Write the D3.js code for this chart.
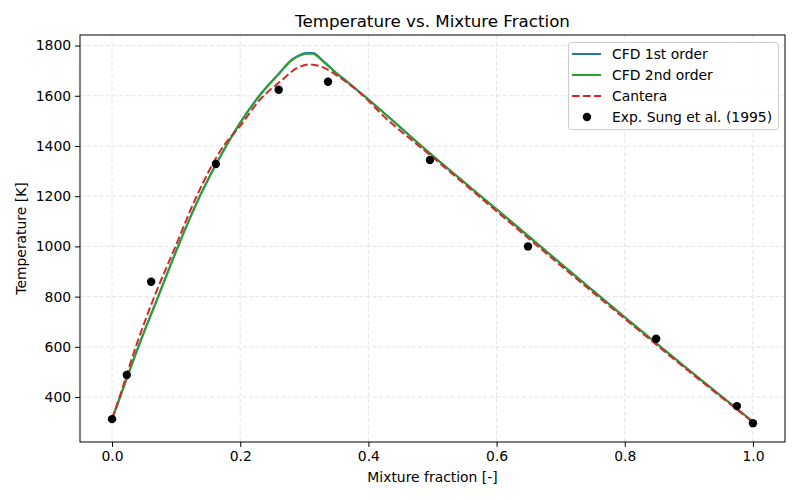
<!DOCTYPE html>
<html>
<head>
<meta charset="utf-8">
<script src="https://cdn.jsdelivr.net/npm/d3@7"></script>
<style>
body { margin:0; background:#fff; }
svg { font-family: "DejaVu Sans", sans-serif; }
</style>
</head>
<body>
<svg id="chart" width="800" height="500"></svg>
<script>
// data
var cfd2_x = [0, 0.0125, 0.041, 0.072, 0.103, 0.137, 0.178, 0.2, 0.234, 0.258, 0.281, 0.296, 0.303, 0.313, 0.33, 0.35, 0.367, 0.4, 0.5, 0.6, 0.7, 0.8, 0.9, 1.0];
var cfd2_T = [312, 400, 600, 800, 1000, 1200, 1400, 1492, 1612, 1680, 1743, 1763, 1767, 1767, 1735, 1690, 1655, 1585, 1362, 1148, 932, 718, 508, 302];

var cfd1_x = [0, 0.0125, 0.041, 0.072, 0.103, 0.137, 0.178, 0.2, 0.234, 0.258, 0.281, 0.296, 0.303, 0.313, 0.33, 0.35, 0.367, 0.4, 0.5, 0.6, 0.7, 0.8, 0.9, 1.0];
var cfd1_T = [312, 400, 600, 800, 1000, 1200, 1400, 1493, 1614, 1682, 1745, 1766, 1770, 1770, 1737, 1691, 1656, 1585, 1362, 1148, 932, 718, 508, 302];

var cantera_x = [0, 0.013, 0.037, 0.066, 0.099, 0.132, 0.174, 0.2, 0.231, 0.263, 0.289, 0.309, 0.33, 0.356, 0.392, 0.418, 0.5, 0.6, 0.7, 0.8, 0.9, 1.0];
var cantera_T = [312, 410, 600, 800, 1000, 1200, 1400, 1480, 1585, 1658, 1711, 1725, 1712, 1672, 1600, 1533, 1356, 1140, 924, 712, 503, 300];

var exp_x = [0, 0.023, 0.061, 0.162, 0.26, 0.337, 0.496, 0.649, 0.849, 0.975, 1.0];
var exp_T = [312, 488, 859, 1328, 1624, 1656, 1344, 1000, 632, 364, 296];

var xticks = [0.0, 0.2, 0.4, 0.6, 0.8, 1.0];
var yticks = [400, 600, 800, 1000, 1200, 1400, 1600, 1800];

var pLeft = 80, pRight = 785, pTop = 35, pBottom = 442;

var svg = d3.select("#chart");

var x = d3.scaleLinear().domain([-0.05, 1.05]).range([pLeft, pRight]);
var y = d3.scaleLinear().domain([221, 1842]).range([pBottom, pTop]);

// grid
svg.append("g").selectAll("line").data(xticks).enter().append("line")
	.attr("x1", function(d){return x(d)}).attr("x2", function(d){return x(d)})
	.attr("y1", pTop).attr("y2", pBottom)
	.attr("stroke", "#dcdcdc").attr("stroke-width", 0.8).attr("stroke-dasharray", "4,2.5");
svg.append("g").selectAll("line").data(yticks).enter().append("line")
	.attr("y1", function(d){return y(d)}).attr("y2", function(d){return y(d)})
	.attr("x1", pLeft).attr("x2", pRight)
	.attr("stroke", "#dcdcdc").attr("stroke-width", 0.8).attr("stroke-dasharray", "4,2.5");

// axes
var xAxis = d3.axisBottom(x).tickValues(xticks).tickFormat(d3.format(".1f")).tickSizeOuter(0).tickSize(4.9).tickPadding(4);
var yAxis = d3.axisLeft(y).tickValues(yticks).tickFormat(d3.format("d")).tickSizeOuter(0).tickSize(4.9).tickPadding(4);

var gx = svg.append("g").attr("transform", "translate(0," + pBottom + ")").call(xAxis);
var gy = svg.append("g").attr("transform", "translate(" + pLeft + ",0)").call(yAxis);
[gx, gy].forEach(function(g){
	g.select(".domain").remove();
	g.selectAll("text").attr("font-size", "13.9px").attr("fill", "#000").attr("font-family", "DejaVu Sans");
	g.selectAll("line").attr("stroke", "#000").attr("stroke-width", 1);
});

function mkline(xs, ys) {
	return d3.line().curve(d3.curveMonotoneX)
		.x(function(d, i){return x(xs[i])}).y(function(d, i){return y(ys[i])})(xs);
}

svg.append("path").attr("d", mkline(cfd1_x, cfd1_T))
	.attr("fill", "none").attr("stroke", "#1f77b4").attr("stroke-width", 2);
svg.append("path").attr("d", mkline(cfd2_x, cfd2_T))
	.attr("fill", "none").attr("stroke", "#2ca02c").attr("stroke-width", 2);
svg.append("path").attr("d", mkline(cantera_x, cantera_T))
	.attr("fill", "none").attr("stroke", "#d62728").attr("stroke-width", 2)
	.attr("stroke-dasharray", "7.7,3.3");

svg.append("g").selectAll("circle").data(exp_x).enter().append("circle")
	.attr("cx", function(d){return x(d)})
	.attr("cy", function(d, i){return y(exp_T[i])})
	.attr("r", 4.2).attr("fill", "#000");

// frame
svg.append("rect").attr("x", pLeft).attr("y", pTop).attr("width", pRight-pLeft).attr("height", pBottom-pTop)
	.attr("fill", "none").attr("stroke", "#000").attr("stroke-width", 1);

// title and labels
svg.append("text").attr("x", (pLeft+pRight)/2).attr("y", 27).attr("text-anchor", "middle")
	.attr("font-size", "16.7px").text("Temperature vs. Mixture Fraction");
svg.append("text").attr("x", (pLeft+pRight)/2).attr("y", 482).attr("text-anchor", "middle")
	.attr("font-size", "13.9px").text("Mixture fraction [-]");
svg.append("text").attr("transform", "translate(26," + ((pTop+pBottom)/2) + ") rotate(-90)")
	.attr("text-anchor", "middle").attr("font-size", "13.9px").text("Temperature [K]");

// legend
var leg = svg.append("g");
leg.append("rect").attr("x", 568.5).attr("y", 42.5).attr("width", 210).attr("height", 87).attr("rx", 3)
	.attr("fill", "#fff").attr("fill-opacity", 0.8).attr("stroke", "#cccccc").attr("stroke-width", 1);

var legItems = [
	{name: "CFD 1st order", color: "#1f77b4", kind: "line"},
	{name: "CFD 2nd order", color: "#2ca02c", kind: "line"},
	{name: "Cantera", color: "#d62728", kind: "dash"},
	{name: "Exp. Sung et al. (1995)", color: "#000", kind: "dot"}
];
legItems.forEach(function(d, i){
	var yy = 54 + i*21;
	if (d.kind == "dot") {
		leg.append("circle").attr("cx", 587).attr("cy", yy).attr("r", 4.2).attr("fill", d.color);
	} else {
		var l = leg.append("line").attr("x1", 572).attr("x2", 601).attr("y1", yy).attr("y2", yy)
			.attr("stroke", d.color).attr("stroke-width", 2);
		if (d.kind == "dash") l.attr("stroke-dasharray", "7.7,3.3");
	}
	leg.append("text").attr("x", 612).attr("y", yy + 5).attr("font-size", "13.9px").text(d.name);
});
</script>
</body>
</html>
